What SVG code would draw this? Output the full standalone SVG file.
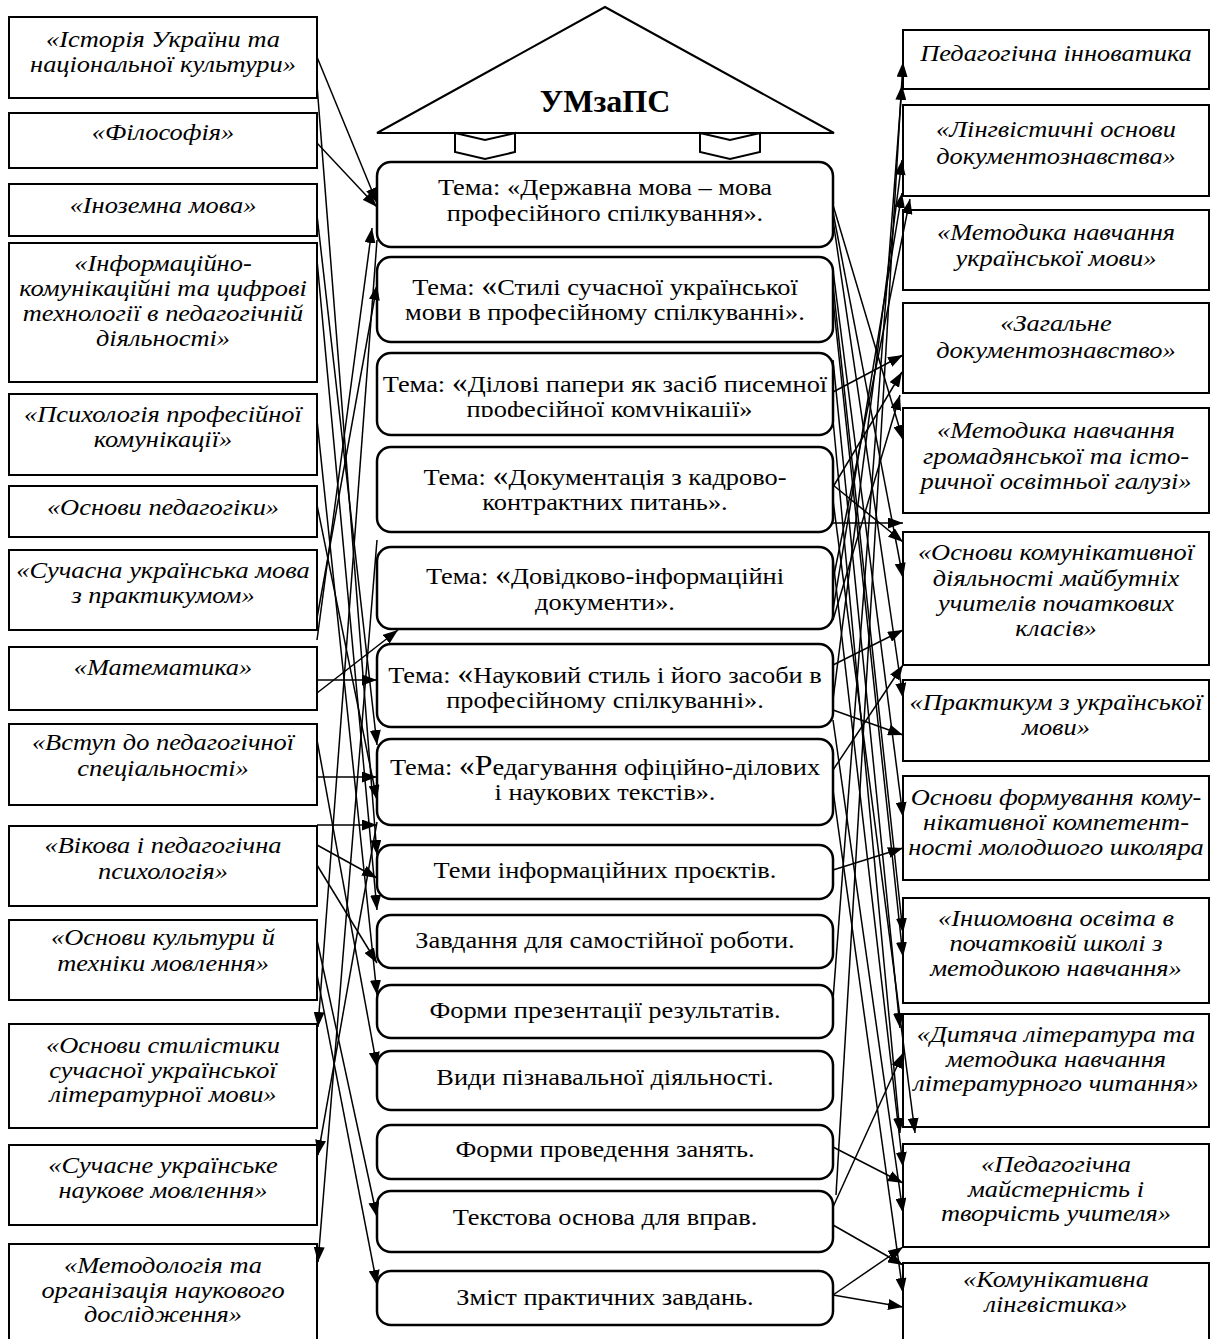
<svg xmlns="http://www.w3.org/2000/svg" width="1219" height="1339" viewBox="0 0 1219 1339">
<style>
  .lb { fill: #fff; stroke: #000; stroke-width: 2; }
  .cb { fill: #fff; stroke: #000; stroke-width: 2.5; }
  .it { font-family: "Liberation Serif", "Times New Roman", serif; font-style: italic; font-size: 24px; text-anchor: middle; fill: #000; }
  .ct { font-family: "Liberation Serif", "Times New Roman", serif; font-size: 24px; text-anchor: middle; fill: #000; }
  .big { font-size: 29px; }
  .ttl { font-family: "Liberation Serif", "Times New Roman", serif; font-weight: bold; font-size: 32px; text-anchor: middle; }
  .roof { fill: #fff; stroke: #000; stroke-width: 2; stroke-linejoin: miter; }
  #links line { stroke: #000; stroke-width: 1.5; marker-end: url(#ah); }
</style>
<defs>
  <marker id="ah" markerWidth="15" markerHeight="11" refX="15" refY="5.5" orient="auto-start-reverse" markerUnits="userSpaceOnUse">
    <path d="M0,0 L15,5.5 L0,11 z" fill="#000"/>
  </marker>
  <clipPath id="clipC3"><rect x="380" y="355" width="451" height="62"/></clipPath>
</defs>
<rect width="1219" height="1339" fill="#fff"/>

<!-- roof with title -->
<g id="roof">
  <polygon class="roof" points="605,7 834,133 377,133"/>
  <text class="ttl" x="605" y="112">УМзаПС</text>
  <polygon class="roof" points="455,133 485,140 515,133 515,152 485,159 455,152"/>
  <polygon class="roof" points="700,133 730,140 760,133 760,152 730,159 700,152"/>
</g>

<!-- left column: related disciplines (text widened 10% about x=163) -->
<g id="l1"><rect class="lb" x="9" y="17" width="308" height="81"/><g transform="matrix(1.1 0 0 1 -16.3 0)"><text class="it" x="163" y="47">«Історія України та</text><text class="it" x="163" y="72">національної культури»</text></g></g>
<g id="l2"><rect class="lb" x="9" y="113" width="308" height="55"/><g transform="matrix(1.1 0 0 1 -16.3 0)"><text class="it" x="163" y="140">«Філософія»</text></g></g>
<g id="l3"><rect class="lb" x="9" y="184" width="308" height="52"/><g transform="matrix(1.1 0 0 1 -16.3 0)"><text class="it" x="163" y="213">«Іноземна мова»</text></g></g>
<g id="l4"><rect class="lb" x="9" y="243" width="308" height="139"/><g transform="matrix(1.1 0 0 1 -16.3 0)"><text class="it" x="163" y="271">«Інформаційно-</text><text class="it" x="163" y="296">комунікаційні та цифрові</text><text class="it" x="163" y="321">технології в педагогічній</text><text class="it" x="163" y="346">діяльності»</text></g></g>
<g id="l5"><rect class="lb" x="9" y="394" width="308" height="81"/><g transform="matrix(1.1 0 0 1 -16.3 0)"><text class="it" x="163" y="422">«Психологія професійної</text><text class="it" x="163" y="447">комунікації»</text></g></g>
<g id="l6"><rect class="lb" x="9" y="486" width="308" height="51"/><g transform="matrix(1.1 0 0 1 -16.3 0)"><text class="it" x="163" y="515">«Основи педагогіки»</text></g></g>
<g id="l7"><rect class="lb" x="9" y="550" width="308" height="80"/><g transform="matrix(1.1 0 0 1 -16.3 0)"><text class="it" x="163" y="578">«Сучасна українська мова</text><text class="it" x="163" y="603">з практикумом»</text></g></g>
<g id="l8"><rect class="lb" x="9" y="647" width="308" height="63"/><g transform="matrix(1.1 0 0 1 -16.3 0)"><text class="it" x="163" y="675">«Математика»</text></g></g>
<g id="l9"><rect class="lb" x="9" y="724" width="308" height="81"/><g transform="matrix(1.1 0 0 1 -16.3 0)"><text class="it" x="163" y="750">«Вступ до педагогічної</text><text class="it" x="163" y="776">спеціальності»</text></g></g>
<g id="l10"><rect class="lb" x="9" y="826" width="308" height="80"/><g transform="matrix(1.1 0 0 1 -16.3 0)"><text class="it" x="163" y="853">«Вікова і педагогічна</text><text class="it" x="163" y="879">психологія»</text></g></g>
<g id="l11"><rect class="lb" x="9" y="920" width="308" height="80"/><g transform="matrix(1.1 0 0 1 -16.3 0)"><text class="it" x="163" y="945">«Основи культури й</text><text class="it" x="163" y="971">техніки мовлення»</text></g></g>
<g id="l12"><rect class="lb" x="9" y="1024" width="308" height="104"/><g transform="matrix(1.1 0 0 1 -16.3 0)"><text class="it" x="163" y="1053">«Основи стилістики</text><text class="it" x="163" y="1078">сучасної української</text><text class="it" x="163" y="1102">літературної мови»</text></g></g>
<g id="l13"><rect class="lb" x="9" y="1145" width="308" height="80"/><g transform="matrix(1.1 0 0 1 -16.3 0)"><text class="it" x="163" y="1173">«Сучасне українське</text><text class="it" x="163" y="1198">наукове мовлення»</text></g></g>
<g id="l14"><rect class="lb" x="9" y="1244" width="308" height="104"/><g transform="matrix(1.1 0 0 1 -16.3 0)"><text class="it" x="163" y="1273">«Методологія та</text><text class="it" x="163" y="1298">організація наукового</text><text class="it" x="163" y="1322">дослідження»</text></g></g>

<!-- centre column: course content (text widened 10% about x=605) -->
<g id="c1"><rect class="cb" x="377" y="162" width="456" height="85" rx="14"/><g transform="matrix(1.1 0 0 1 -60.5 0)"><text class="ct" x="605" y="195">Тема: «Державна мова – мова</text><text class="ct" x="605" y="221">професійного спілкування».</text></g></g>
<g id="c2"><rect class="cb" x="377" y="257" width="456" height="85" rx="14"/><g transform="matrix(1.1 0 0 1 -60.5 0)"><text class="ct" x="605" y="295">Тема: <tspan class="big">«</tspan>Стилі сучасної української</text><text class="ct" x="605" y="320">мови в професійному спілкуванні».</text></g></g>
<g id="c3"><rect class="cb" x="377" y="353" width="456" height="82" rx="14"/><g clip-path="url(#clipC3)"><g transform="matrix(1.1 0 0 1 -60.5 0)"><text class="ct" x="403" y="392" style="text-anchor:start">Тема: <tspan class="big">«</tspan>Ділові папери як засіб писемної</text><text class="ct" x="609" y="417">професійної комунікації»</text></g></g></g>
<g id="c4"><rect class="cb" x="377" y="447" width="456" height="85" rx="14"/><g transform="matrix(1.1 0 0 1 -60.5 0)"><text class="ct" x="605" y="485">Тема: <tspan class="big">«</tspan>Документація з кадрово-</text><text class="ct" x="605" y="510">контрактних питань».</text></g></g>
<g id="c5"><rect class="cb" x="377" y="547" width="456" height="82" rx="14"/><g transform="matrix(1.1 0 0 1 -60.5 0)"><text class="ct" x="605" y="584">Тема: <tspan class="big">«</tspan>Довідково-інформаційні</text><text class="ct" x="605" y="610">документи».</text></g></g>
<g id="c6"><rect class="cb" x="377" y="644" width="456" height="83" rx="14"/><g transform="matrix(1.1 0 0 1 -60.5 0)"><text class="ct" x="605" y="683">Тема: <tspan class="big">«</tspan>Науковий стиль і його засоби в</text><text class="ct" x="605" y="708">професійному спілкуванні».</text></g></g>
<g id="c7"><rect class="cb" x="377" y="739" width="456" height="86" rx="14"/><g transform="matrix(1.1 0 0 1 -60.5 0)"><text class="ct" x="605" y="775">Тема: <tspan class="big">«Р</tspan>едагування офіційно-ділових</text><text class="ct" x="605" y="800">і наукових текстів».</text></g></g>
<g id="c8"><rect class="cb" x="377" y="845" width="456" height="54" rx="14"/><g transform="matrix(1.1 0 0 1 -60.5 0)"><text class="ct" x="605" y="878">Теми інформаційних проєктів.</text></g></g>
<g id="c9"><rect class="cb" x="377" y="915" width="456" height="53" rx="14"/><g transform="matrix(1.1 0 0 1 -60.5 0)"><text class="ct" x="605" y="948">Завдання для самостійної роботи.</text></g></g>
<g id="c10"><rect class="cb" x="377" y="985" width="456" height="53" rx="14"/><g transform="matrix(1.1 0 0 1 -60.5 0)"><text class="ct" x="605" y="1018">Форми презентації результатів.</text></g></g>
<g id="c11"><rect class="cb" x="377" y="1051" width="456" height="59" rx="14"/><g transform="matrix(1.1 0 0 1 -60.5 0)"><text class="ct" x="605" y="1085">Види пізнавальної діяльності.</text></g></g>
<g id="c12"><rect class="cb" x="377" y="1125" width="456" height="54" rx="14"/><g transform="matrix(1.1 0 0 1 -60.5 0)"><text class="ct" x="605" y="1157">Форми проведення занять.</text></g></g>
<g id="c13"><rect class="cb" x="377" y="1191" width="456" height="61" rx="14"/><g transform="matrix(1.1 0 0 1 -60.5 0)"><text class="ct" x="605" y="1225">Текстова основа для вправ.</text></g></g>
<g id="c14"><rect class="cb" x="377" y="1271" width="456" height="54" rx="14"/><g transform="matrix(1.1 0 0 1 -60.5 0)"><text class="ct" x="605" y="1305">Зміст практичних завдань.</text></g></g>

<!-- right column: follow-up disciplines (text widened 10% about x=1056) -->
<g id="r1"><rect class="lb" x="903" y="30" width="306" height="59"/><g transform="matrix(1.1 0 0 1 -105.6 0)"><text class="it" x="1056" y="61">Педагогічна інноватика</text></g></g>
<g id="r2"><rect class="lb" x="903" y="105" width="306" height="91"/><g transform="matrix(1.1 0 0 1 -105.6 0)"><text class="it" x="1056" y="137">«Лінгвістичні основи</text><text class="it" x="1056" y="164">документознавства»</text></g></g>
<g id="r3"><rect class="lb" x="903" y="210" width="306" height="80"/><g transform="matrix(1.1 0 0 1 -105.6 0)"><text class="it" x="1056" y="240">«Методика навчання</text><text class="it" x="1056" y="266">української мови»</text></g></g>
<g id="r4"><rect class="lb" x="903" y="303" width="306" height="90"/><g transform="matrix(1.1 0 0 1 -105.6 0)"><text class="it" x="1056" y="331">«Загальне</text><text class="it" x="1056" y="358">документознавство»</text></g></g>
<g id="r5"><rect class="lb" x="903" y="408" width="306" height="105"/><g transform="matrix(1.1 0 0 1 -105.6 0)"><text class="it" x="1056" y="438">«Методика навчання</text><text class="it" x="1056" y="464">громадянської та істо-</text><text class="it" x="1056" y="489">ричної освітньої галузі»</text></g></g>
<g id="r6"><rect class="lb" x="903" y="532" width="306" height="133"/><g transform="matrix(1.1 0 0 1 -105.6 0)"><text class="it" x="1056" y="560">«Основи комунікативної</text><text class="it" x="1056" y="586">діяльності майбутніх</text><text class="it" x="1056" y="611">учителів початкових</text><text class="it" x="1056" y="636">класів»</text></g></g>
<g id="r7"><rect class="lb" x="903" y="680" width="306" height="81"/><g transform="matrix(1.1 0 0 1 -105.6 0)"><text class="it" x="1056" y="710">«Практикум з української</text><text class="it" x="1056" y="735">мови»</text></g></g>
<g id="r8"><rect class="lb" x="903" y="776" width="306" height="104"/><g transform="matrix(1.1 0 0 1 -105.6 0)"><text class="it" x="1056" y="805">Основи формування кому-</text><text class="it" x="1056" y="830">нікативної компетент-</text><text class="it" x="1056" y="855">ності молодшого школяра</text></g></g>
<g id="r9"><rect class="lb" x="903" y="898" width="306" height="105"/><g transform="matrix(1.1 0 0 1 -105.6 0)"><text class="it" x="1056" y="926">«Іншомовна освіта в</text><text class="it" x="1056" y="951">початковій школі з</text><text class="it" x="1056" y="976">методикою навчання»</text></g></g>
<g id="r10"><rect class="lb" x="903" y="1014" width="306" height="113"/><g transform="matrix(1.1 0 0 1 -105.6 0)"><text class="it" x="1056" y="1042">«Дитяча література та</text><text class="it" x="1056" y="1067">методика навчання</text><text class="it" x="1056" y="1091">літературного читання»</text></g></g>
<g id="r11"><rect class="lb" x="903" y="1144" width="306" height="103"/><g transform="matrix(1.1 0 0 1 -105.6 0)"><text class="it" x="1056" y="1172">«Педагогічна</text><text class="it" x="1056" y="1197">майстерність і</text><text class="it" x="1056" y="1221">творчість учителя»</text></g></g>
<g id="r12"><rect class="lb" x="903" y="1263" width="306" height="90"/><g transform="matrix(1.1 0 0 1 -105.6 0)"><text class="it" x="1056" y="1287">«Комунікативна</text><text class="it" x="1056" y="1312">лінгвістика»</text></g></g>

<!-- connectors -->
<g id="links">
  <!-- left column to centre -->
  <line x1="317" y1="57" x2="377" y2="203"/>
  <line x1="317" y1="143" x2="377" y2="207"/>
  <line x1="317" y1="85" x2="377" y2="855"/>
  <line x1="317" y1="215" x2="377" y2="745"/>
  <line x1="317" y1="260" x2="377" y2="910"/>
  <line x1="317" y1="420" x2="377" y2="995"/>
  <line x1="317" y1="505" x2="377" y2="800"/>
  <line x1="317" y1="640" x2="372" y2="228"/>
  <line x1="317" y1="618" x2="377" y2="285"/>
  <line x1="317" y1="693" x2="398" y2="630"/>
  <line x1="317" y1="680" x2="377" y2="680"/>
  <line x1="317" y1="777" x2="377" y2="777"/>
  <line x1="317" y1="825" x2="377" y2="825"/>
  <line x1="317" y1="845" x2="377" y2="878"/>
  <line x1="317" y1="865" x2="377" y2="963"/>
  <line x1="317" y1="740" x2="377" y2="1067"/>
  <line x1="317" y1="940" x2="377" y2="1217"/>
  <line x1="317" y1="975" x2="377" y2="1285"/>
  <line x1="377" y1="240" x2="318" y2="1027"/>
  <line x1="377" y1="822" x2="318" y2="1155"/>
  <line x1="377" y1="540" x2="318" y2="1262"/>
  <!-- centre to right column -->
  <line x1="833" y1="205" x2="903" y2="440"/>
  <line x1="833" y1="212" x2="903" y2="578"/>
  <line x1="833" y1="220" x2="903" y2="698"/>
  <line x1="833" y1="270" x2="903" y2="817"/>
  <line x1="833" y1="285" x2="903" y2="933"/>
  <line x1="833" y1="300" x2="903" y2="957"/>
  <line x1="833" y1="360" x2="900" y2="1028"/>
  <line x1="833" y1="420" x2="900" y2="1133"/>
  <line x1="833" y1="500" x2="915" y2="1133"/>
  <line x1="833" y1="560" x2="903" y2="1167"/>
  <line x1="833" y1="720" x2="903" y2="1213"/>
  <line x1="833" y1="790" x2="903" y2="1293"/>
  <line x1="836" y1="1195" x2="903" y2="62"/>
  <line x1="833" y1="1000" x2="902" y2="85"/>
  <line x1="833" y1="700" x2="902" y2="160"/>
  <line x1="833" y1="610" x2="902" y2="193"/>
  <line x1="833" y1="580" x2="910" y2="199"/>
  <line x1="833" y1="487" x2="902" y2="372"/>
  <line x1="833" y1="620" x2="900" y2="395"/>
  <line x1="833" y1="392" x2="903" y2="355"/>
  <line x1="833" y1="523" x2="903" y2="523"/>
  <line x1="833" y1="485" x2="903" y2="542"/>
  <line x1="833" y1="665" x2="903" y2="630"/>
  <line x1="833" y1="770" x2="903" y2="665"/>
  <line x1="833" y1="710" x2="903" y2="735"/>
  <line x1="833" y1="870" x2="903" y2="848"/>
  <line x1="833" y1="1207" x2="903" y2="1053"/>
  <line x1="833" y1="1147" x2="903" y2="1183"/>
  <line x1="833" y1="1295" x2="903" y2="1247"/>
  <line x1="833" y1="1225" x2="903" y2="1265"/>
  <line x1="833" y1="1295" x2="903" y2="1307"/>
</g>
</svg>
